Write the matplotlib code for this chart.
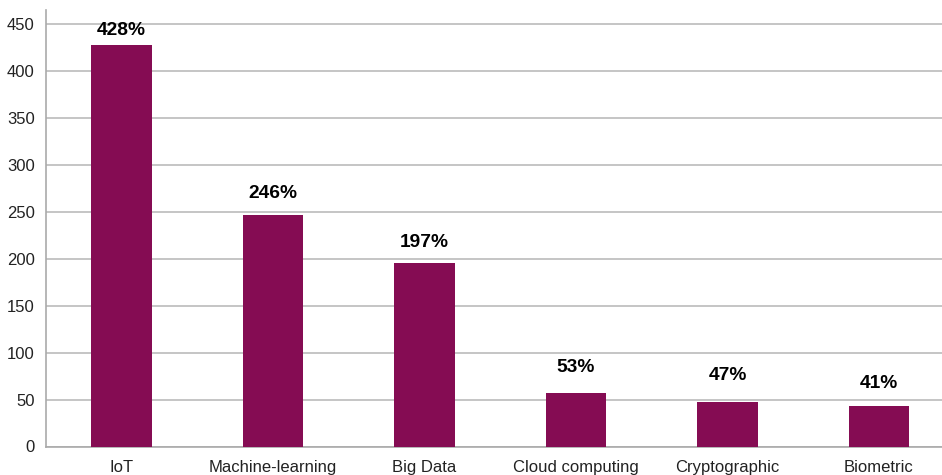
import matplotlib
matplotlib.use("Agg")
import matplotlib.pyplot as plt

# data
categories = ["IoT", "Machine-learning", "Big Data", "Cloud computing", "Cryptographic", "Biometric"]
bar_heights = [428, 247, 195, 57, 47, 43]
bar_labels = ["428%", "246%", "197%", "53%", "47%", "41%"]
y_ticks = [0, 50, 100, 150, 200, 250, 300, 350, 400, 450]

# gap between bar top and its label, in points
label_pad = [4, 9, 9, 12, 13, 10]

plt.rcParams['font.family'] = ['Liberation Sans', 'DejaVu Sans']

fig = plt.figure(figsize=(9.42, 4.75), dpi=100)
ax = fig.add_axes([45.75 / 942, 28.5 / 475, 909 / 942, 436.5 / 475])

x = list(range(len(categories)))
bars = ax.bar(x, bar_heights, width=0.40, color='#850C53', zorder=3)

for rect, txt, pad in zip(bars, bar_labels, label_pad):
    ax.annotate(txt, (rect.get_x() + rect.get_width() / 2, rect.get_height()),
                xytext=(0, pad), textcoords='offset points',
                ha='center', va='bottom', fontsize=13.8, fontweight='bold',
                color='black')

ax.set_xlim(-0.5, len(categories) - 0.5)
ax.set_ylim(0, 465)
ax.set_yticks(y_ticks)
ax.set_xticks(x)
ax.set_xticklabels(categories)
ax.yaxis.grid(True, color='#BBBBBB', linewidth=1.2, zorder=0)
ax.tick_params(axis='both', length=0, labelsize=12, labelcolor='#222222')
ax.tick_params(axis='y', pad=8)
ax.tick_params(axis='x', pad=10)

for side in ['top', 'right']:
    ax.spines[side].set_visible(False)
for side in ['left', 'bottom']:
    ax.spines[side].set_color('#AAAAAA')
    ax.spines[side].set_linewidth(1.2)

fig.savefig("out.png", dpi=100)
